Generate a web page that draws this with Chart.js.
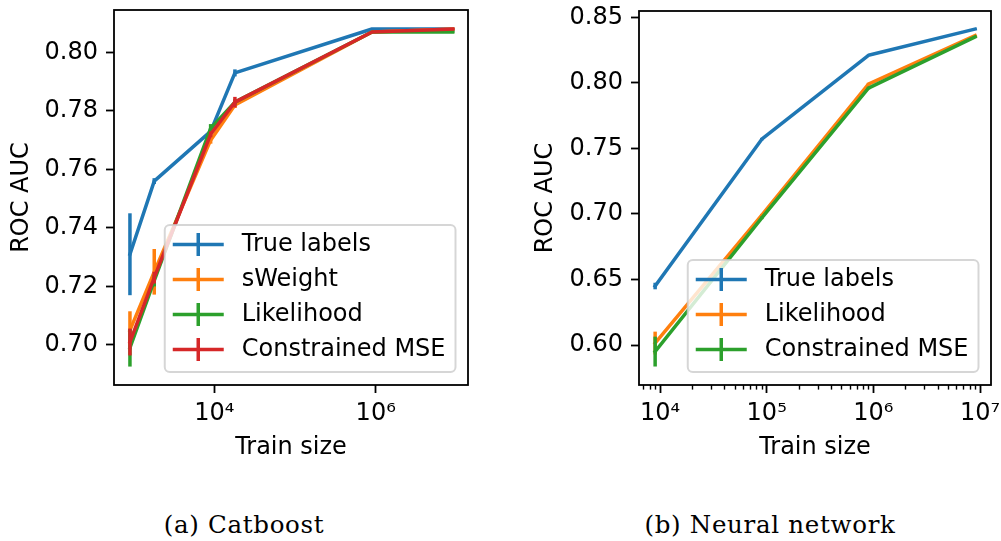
<!DOCTYPE html>
<html>
<head>
<meta charset="utf-8">
<script src="https://cdn.jsdelivr.net/npm/chart.js@4.4.1/dist/chart.umd.min.js"></script>
<style>
  html, body { margin: 0; padding: 0; background: #ffffff; width: 1001px; height: 541px; overflow: hidden; }
  #c1 { position: absolute; left: 0; top: 0; }
  #c2 { position: absolute; left: 500px; top: 0; }
  .cap { position: absolute; top: 511px; font-family: "DejaVu Serif", serif; font-size: 24.5px; line-height: 28px;
         letter-spacing: 0.7px; white-space: nowrap; color: #000; transform: translateX(-50%); }
</style>
</head>
<body>
<canvas id="c1" width="490" height="470"></canvas>
<canvas id="c2" width="501" height="470"></canvas>
<div class="cap" id="capA" style="left:244px">(a) Catboost</div>
<div class="cap" id="capB" style="left:770px">(b) Neural network</div>
<script>
// ---------------- DATA ----------------
// (a) Catboost
const catSizes = [900, 1800, 9000, 18000, 900000, 9000000];
const catTrue = [0.731, 0.756, 0.773, 0.793, 0.808, 0.808];
const catTrueErr = [0.014, 0.001, 0.001, 0.0012, 0.0003, 0.0003];
const catSWeight = [0.705, 0.725, 0.770, 0.782, 0.807, 0.808];
const catSWeightErr = [0.0065, 0.0078, 0.0012, 0.001, 0.0003, 0.0003];
const catLikelihood = [0.699, 0.722, 0.774, 0.783, 0.807, 0.807];
const catLikelihoodErr = [0.0064, 0.002, 0.0015, 0.001, 0.0003, 0.0003];
const catMSE = [0.701, 0.723, 0.772, 0.783, 0.807, 0.808];
const catMSEErr = [0.0046, 0.002, 0.001, 0.0018, 0.0003, 0.0003];
const catXTicks = [1e4, 1e6];
const catYTicks = [0.70, 0.72, 0.74, 0.76, 0.78, 0.80];

// (b) Neural network
const nnSizes = [9000, 90000, 900000, 9000000];
const nnTrue = [0.645, 0.757, 0.821, 0.841];
const nnTrueErr = [0.0025, 0.001, 0.0005, 0.0005];
const nnLikelihood = [0.6015, 0.699, 0.799, 0.836];
const nnLikelihoodErr = [0.0087, 0.001, 0.001, 0.0005];
const nnMSE = [0.595, 0.697, 0.796, 0.835];
const nnMSEErr = [0.0114, 0.001, 0.001, 0.0005];
const nnXTicks = [1e4, 1e5, 1e6, 1e7];
const nnYTicks = [0.60, 0.65, 0.70, 0.75, 0.80, 0.85];

const seriesLabelsA = ['True labels', 'sWeight', 'Likelihood', 'Constrained MSE'];
const seriesLabelsB = ['True labels', 'Likelihood', 'Constrained MSE'];
const captions = ['(a) Catboost', '(b) Neural network'];

// ---------------- STYLE ----------------
const C_BLUE = '#1f77b4', C_ORANGE = '#ff7f0e', C_GREEN = '#2ca02c', C_RED = '#d62728';
const FONT = '"DejaVu Sans", sans-serif';
const FS = 24;
const LW = 3.5;

function sup(n) {
  const m = {'0':'⁰','1':'¹','2':'²','3':'³','4':'⁴','5':'⁵','6':'⁶','7':'⁷','8':'⁸','9':'⁹','-':'⁻'};
  return String(n).split('').map(c => m[c]).join('');
}

function minorTicksFor(min, max) {
  const out = [];
  for (let d = Math.floor(Math.log10(min)); d <= Math.ceil(Math.log10(max)); d++) {
    for (let k = 2; k <= 9; k++) {
      const v = k * Math.pow(10, d);
      if (v >= min && v <= max) out.push(v);
    }
  }
  return out;
}

const mplPlugin = {
  id: 'mplExtras',
  afterDatasetDraw(chart, args) {
    const ds = chart.data.datasets[args.index];
    if (!ds.errors) return;
    const xs = chart.scales.x, ys = chart.scales.y, ctx = chart.ctx, a = chart.chartArea;
    ctx.save();
    ctx.beginPath(); ctx.rect(a.left, a.top, a.right - a.left, a.bottom - a.top); ctx.clip();
    ctx.strokeStyle = ds.borderColor; ctx.lineWidth = LW; ctx.lineCap = 'butt';
    ds.data.forEach((p, j) => {
      const e = ds.errors[j];
      const px = xs.getPixelForValue(p.x);
      ctx.beginPath();
      ctx.moveTo(px, ys.getPixelForValue(p.y - e));
      ctx.lineTo(px, ys.getPixelForValue(p.y + e));
      ctx.stroke();
    });
    ctx.restore();
  },
  afterDraw(chart, args, opts) {
    const ctx = chart.ctx, a = chart.chartArea, xs = chart.scales.x;
    ctx.save();
    // minor ticks
    if (opts.minor) {
      ctx.strokeStyle = '#000'; ctx.lineWidth = 1.4;
      opts.minor.forEach(v => {
        const px = Math.round(xs.getPixelForValue(v)) + 0.5;
        ctx.beginPath(); ctx.moveTo(px, a.bottom); ctx.lineTo(px, a.bottom + 4.6); ctx.stroke();
      });
    }
    // frame
    ctx.strokeStyle = '#000'; ctx.lineWidth = 1.8;
    ctx.strokeRect(a.left, a.top, a.right - a.left, a.bottom - a.top);
    // legend
    const entries = chart.data.datasets.map(d => ({label: d.label, color: d.borderColor}));
    ctx.font = FS + 'px ' + FONT;
    let tw = 0;
    entries.forEach(e => { tw = Math.max(tw, ctx.measureText(e.label).width); });
    const padL = 8, hLen = 51, gap = 18, padR = 10, topPad = 19.5, rowH = 35, botPad = 22.5;
    const w = padL + hLen + gap + tw + padR;
    const h = topPad + (entries.length - 1) * rowH + botPad;
    const x0 = a.right - 12.5 - w, y0 = a.bottom - 13 - h;
    const r = 5;
    ctx.beginPath();
    ctx.moveTo(x0 + r, y0);
    ctx.arcTo(x0 + w, y0, x0 + w, y0 + h, r);
    ctx.arcTo(x0 + w, y0 + h, x0, y0 + h, r);
    ctx.arcTo(x0, y0 + h, x0, y0, r);
    ctx.arcTo(x0, y0, x0 + w, y0, r);
    ctx.closePath();
    ctx.fillStyle = 'rgba(255,255,255,0.8)';
    ctx.fill();
    ctx.strokeStyle = 'rgba(204,204,204,0.8)'; ctx.lineWidth = 2;
    ctx.stroke();
    entries.forEach((e, i) => {
      const cy = y0 + topPad + i * rowH;
      const hx = x0 + padL;
      ctx.strokeStyle = e.color; ctx.lineWidth = LW; ctx.lineCap = 'butt';
      ctx.beginPath(); ctx.moveTo(hx, cy); ctx.lineTo(hx + hLen, cy); ctx.stroke();
      ctx.beginPath(); ctx.moveTo(hx + hLen / 2, cy - 11.5); ctx.lineTo(hx + hLen / 2, cy + 11.5); ctx.stroke();
      ctx.fillStyle = '#000'; ctx.textBaseline = 'middle'; ctx.textAlign = 'left';
      ctx.fillText(e.label, hx + hLen + gap, cy);
    });
    ctx.restore();
  }
};

function makeChart(id, cfg) {
  const n = cfg.series.length;
  const datasets = cfg.series.map((s, i) => ({
    label: s.label,
    data: cfg.x.map((xv, j) => ({x: xv, y: s.y[j]})),
    errors: s.err,
    borderColor: s.color, backgroundColor: s.color,
    borderWidth: LW, pointRadius: 0, pointHoverRadius: 0, tension: 0, fill: false,
    borderCapStyle: 'square', borderJoinStyle: 'round',
    order: n - i
  }));
  const tickFont = {family: FONT, size: FS};
  return new Chart(document.getElementById(id), {
    type: 'line',
    data: {datasets},
    options: {
      responsive: false, animation: false, devicePixelRatio: 1, events: [],
      layout: {padding: cfg.padding},
      plugins: {legend: {display: false}, tooltip: {enabled: false}, mplExtras: {minor: cfg.minor}},
      scales: {
        x: {
          type: 'logarithmic', position: 'bottom', min: cfg.xMin, max: cfg.xMax,
          afterBuildTicks: sc => { sc.ticks = cfg.xTicks.map(v => ({value: v})); },
          afterFit: sc => { sc.height = cfg.xAxisH; sc.paddingLeft = 0; sc.paddingRight = 0; },
          ticks: {autoSkip: false, maxRotation: 0, minRotation: 0, padding: 6, color: '#000', font: tickFont,
                  callback: v => '10' + sup(Math.round(Math.log10(v)))},
          grid: {display: true, drawOnChartArea: false, drawTicks: true, tickLength: 8, tickWidth: 1.8, tickColor: '#000'},
          border: {display: false},
          title: {display: true, text: 'Train size', color: '#000', font: tickFont, padding: {top: 0, bottom: 8}}
        },
        y: {
          type: 'linear', position: 'left', min: cfg.yMin, max: cfg.yMax,
          afterBuildTicks: sc => { sc.ticks = cfg.yTicks.map(v => ({value: v})); },
          afterFit: sc => { sc.width = cfg.yAxisW; sc.paddingTop = 0; sc.paddingBottom = 0; },
          ticks: {autoSkip: false, padding: 8, color: '#000', font: tickFont, callback: v => v.toFixed(2)},
          grid: {display: true, drawOnChartArea: false, drawTicks: true, tickLength: 8, tickWidth: 1.8, tickColor: '#000'},
          border: {display: false},
          title: {display: true, text: 'ROC AUC', color: '#000', font: tickFont, padding: {top: cfg.yTitlePad, bottom: 0}}
        }
      }
    },
    plugins: [mplPlugin]
  });
}

makeChart('c1', {
  x: catSizes,
  series: [
    {label: seriesLabelsA[0], y: catTrue, err: catTrueErr, color: C_BLUE},
    {label: seriesLabelsA[1], y: catSWeight, err: catSWeightErr, color: C_ORANGE},
    {label: seriesLabelsA[2], y: catLikelihood, err: catLikelihoodErr, color: C_GREEN},
    {label: seriesLabelsA[3], y: catMSE, err: catMSEErr, color: C_RED}
  ],
  xMin: 571, xMax: 1.393e7, yMin: 0.6863, yMax: 0.8145,
  xTicks: catXTicks, yTicks: catYTicks, minor: null,
  padding: {left: 0, top: 10, right: 22, bottom: 0},
  yAxisW: 114, xAxisH: 85, yTitlePad: 7.5
});

makeChart('c2', {
  x: nnSizes,
  series: [
    {label: seriesLabelsB[0], y: nnTrue, err: nnTrueErr, color: C_BLUE},
    {label: seriesLabelsB[1], y: nnLikelihood, err: nnLikelihoodErr, color: C_ORANGE},
    {label: seriesLabelsB[2], y: nnMSE, err: nnMSEErr, color: C_GREEN}
  ],
  xMin: 6353, xMax: 1.268e7, yMin: 0.5695, yMax: 0.8548,
  xTicks: nnXTicks, yTicks: nnYTicks, minor: minorTicksFor(6353, 1.268e7),
  padding: {left: 0, top: 11, right: 10, bottom: 0},
  yAxisW: 139, xAxisH: 85, yTitlePad: 31
});

document.getElementById('capA').textContent = captions[0];
document.getElementById('capB').textContent = captions[1];
</script>
</body>
</html>
